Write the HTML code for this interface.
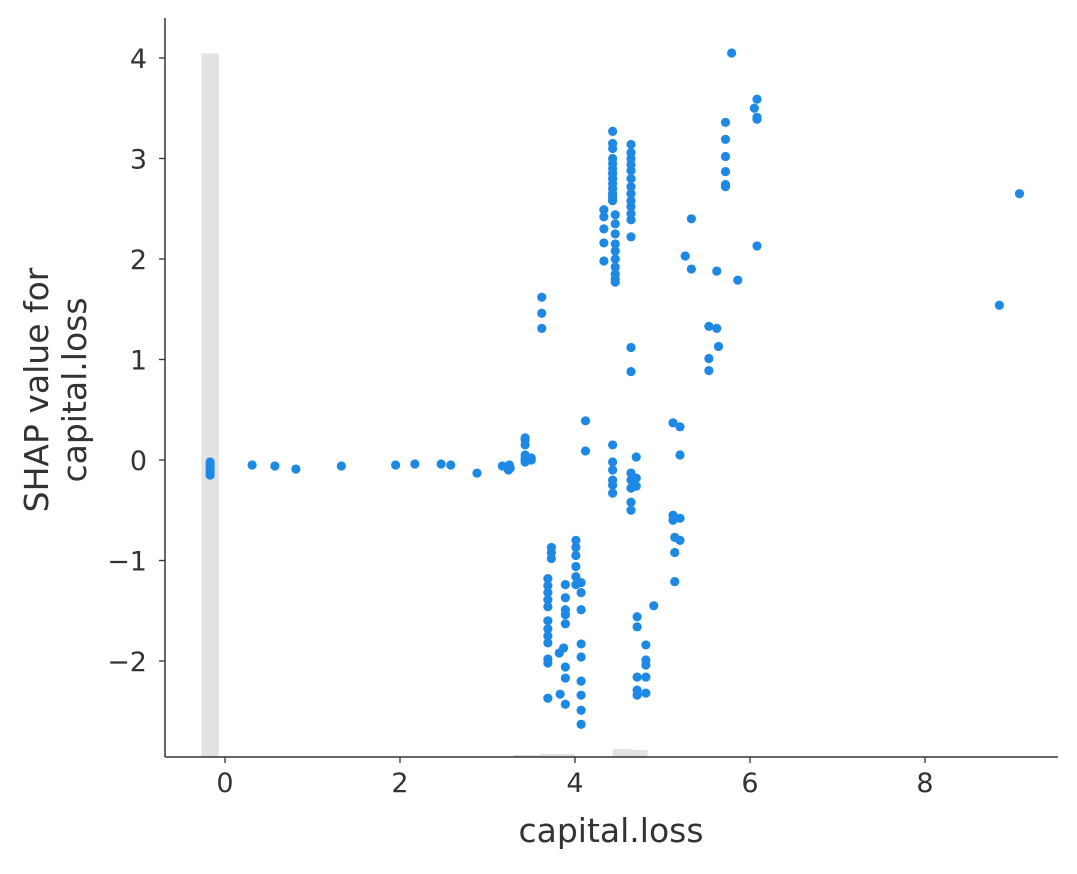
<!DOCTYPE html>
<html><head><meta charset="utf-8"><style>
body{margin:0;background:#fff;}
svg text{font-family:"DejaVu Sans","Liberation Sans",sans-serif;fill:#333;}
</style></head><body>
<svg id="chart" width="1077" height="869" xmlns="http://www.w3.org/2000/svg">
<g id="hist"></g>
<g id="pts"></g>
<g id="axes"></g>
<text x="611" y="842" font-size="33" text-anchor="middle">capital.loss</text>
<text transform="translate(48,390) rotate(-90)" font-size="33" text-anchor="middle">SHAP value for</text>
<text transform="translate(86,390) rotate(-90)" font-size="33" text-anchor="middle">capital.loss</text>
</svg>
<script>
const xTicks=[0,2,4,6,8];
const yTicks=[-2,-1,0,1,2,3,4];
const histX0=[-0.27,3.3,3.6,4.43,4.65];
const histX1=[-0.07,3.6,4.0,4.65,4.83];
const histH=[7.0,0.02,0.03,0.08,0.07];
const xs=[-0.17,-0.17,-0.17,-0.17,-0.17,-0.17,
0.31,0.57,0.81,1.33,1.95,2.17,2.47,2.58,2.88,3.17,3.25,3.26,3.24,
3.43,3.43,3.43,3.43,3.43,3.43,3.43,3.5,3.5,
3.62,3.62,3.62,
4.43,4.43,4.43,4.43,4.43,4.43,4.43,4.43,4.43,4.43,4.43,4.43,4.43,4.43,
4.46,4.46,4.46,4.46,4.46,4.46,4.46,4.46,4.46,4.46,
4.33,4.33,4.33,4.33,4.33,
4.64,4.64,4.64,4.64,4.64,4.64,4.64,4.64,4.64,4.64,4.64,4.64,4.64,4.64,
3.73,3.73,3.73,3.69,3.69,3.69,3.69,3.69,3.69,3.69,3.69,3.69,3.69,3.69,3.69,
3.89,3.89,3.89,3.89,3.89,3.82,3.87,3.89,3.89,3.83,3.89,
4.01,4.01,4.01,4.01,4.01,4.01,4.07,4.07,4.07,4.07,4.07,4.07,4.07,4.07,4.07,
4.71,4.71,4.71,4.71,4.71,4.81,4.81,4.81,4.81,4.81,4.9,5.14,5.14,5.14,
4.43,4.43,4.43,4.43,4.43,4.43,4.12,4.12,4.64,4.64,4.64,4.64,4.64,4.7,4.7,4.7,
5.12,5.12,5.12,5.2,5.2,5.2,5.2,
5.33,5.33,5.26,5.62,5.62,5.64,5.53,5.53,5.53,5.86,5.72,5.72,5.72,5.72,5.72,5.72,5.79,6.05,6.08,6.08,6.08,6.08,8.85,9.08,4.64];
const ys=[-0.02,-0.05,-0.08,-0.1,-0.12,-0.15,
-0.05,-0.06,-0.09,-0.06,-0.05,-0.04,-0.04,-0.05,-0.13,-0.06,-0.05,-0.08,-0.1,
0.22,0.2,0.15,0.05,0.02,0.0,-0.02,0.02,0.0,
1.62,1.46,1.31,
3.27,3.15,3.1,3.0,2.95,2.9,2.85,2.8,2.75,2.7,2.65,2.6,2.62,2.58,
2.44,2.35,2.25,2.15,2.08,2.0,1.92,1.85,1.8,1.77,
2.49,2.42,2.3,2.16,1.98,
3.14,3.06,3.0,2.94,2.88,2.8,2.72,2.65,2.58,2.52,2.45,2.39,2.22,1.12,
-0.87,-0.92,-0.98,-1.18,-1.25,-1.32,-1.39,-1.46,-1.6,-1.68,-1.75,-1.82,-1.98,-2.02,-2.37,
-1.24,-1.37,-1.49,-1.54,-1.63,-1.92,-1.87,-2.06,-2.17,-2.33,-2.43,
-0.8,-0.87,-0.95,-1.06,-1.16,-1.24,-1.22,-1.32,-1.49,-1.83,-1.96,-2.2,-2.34,-2.49,-2.63,
-1.56,-1.66,-2.16,-2.29,-2.34,-1.84,-1.99,-2.04,-2.16,-2.32,-1.45,-0.77,-0.92,-1.21,
0.15,-0.02,-0.1,-0.2,-0.25,-0.33,0.39,0.09,-0.13,-0.2,-0.28,-0.42,-0.5,0.03,-0.18,-0.26,
0.37,-0.55,-0.6,0.33,0.05,-0.58,-0.8,
2.4,1.9,2.03,1.88,1.31,1.13,1.33,1.01,0.89,1.79,3.36,3.19,3.02,2.87,2.74,2.72,4.05,3.5,3.59,3.41,3.39,2.13,1.54,2.65,0.88];
const NS='http://www.w3.org/2000/svg';
const X=v=>225+v*87.5, Y=v=>460-v*100.5;
const L=165,R=1058,T=18,B=757;
function mk(t,a,p){const e=document.createElementNS(NS,t);for(const k in a)e.setAttribute(k,a[k]);p.appendChild(e);return e;}
const hist=document.getElementById('hist');
for(let i=0;i<histX0.length;i++){
 const top=Math.max(Y(-2.955+histH[i]),Y(4.05));
 const r=mk('rect',{x:X(histX0[i]),y:top,width:X(histX1[i])-X(histX0[i]),height:B-top,fill:'#e2e2e2'},hist);
 
 
}
const pts=document.getElementById('pts');
for(let i=0;i<xs.length;i++){
 const c=mk('circle',{cx:X(xs[i]),cy:Y(ys[i]),r:4.6,fill:'#1E88E5'},pts);
 
 
}
const ax=document.getElementById('axes');
mk('line',{x1:L,y1:T,x2:L,y2:B,stroke:'#333','stroke-width':1.5},ax);
mk('line',{x1:L,y1:B,x2:R,y2:B,stroke:'#333','stroke-width':1.5},ax);
xTicks.forEach(v=>{
 mk('line',{x1:X(v),y1:B,x2:X(v),y2:B+6,stroke:'#333','stroke-width':1.3},ax);
 const t=mk('text',{x:X(v),y:B+35,'font-size':27,'text-anchor':'middle'},ax);t.textContent=String(v);
 
 
});
yTicks.forEach(v=>{
 mk('line',{x1:L-6,y1:Y(v),x2:L,y2:Y(v),stroke:'#333','stroke-width':1.3},ax);
 const t=mk('text',{x:L-18,y:Y(v)+10,'font-size':27,'text-anchor':'end'},ax);t.textContent=(v<0?'\u2212'+(-v):String(v));
 
 
});
</script>
</body></html>
